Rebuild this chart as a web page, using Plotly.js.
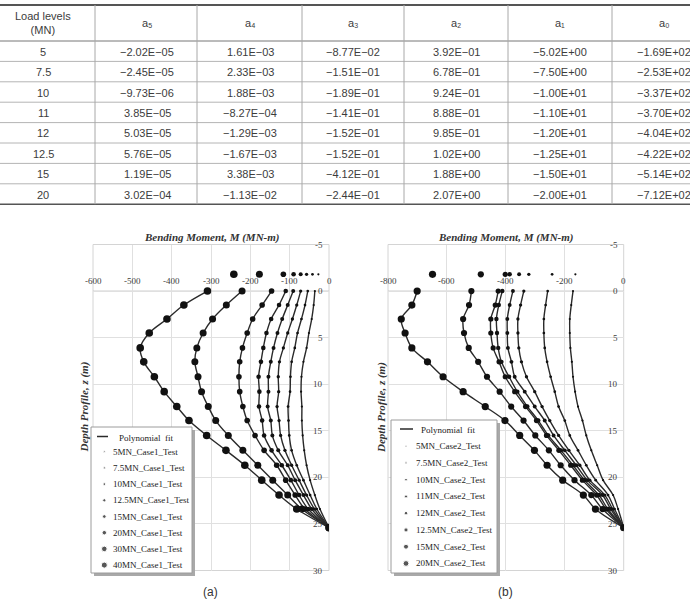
<!DOCTYPE html>
<html>
<head>
<meta charset="utf-8">
<script src="https://cdn.plot.ly/plotly-3.0.1.min.js"></script>
<style>
  html, body { margin: 0; padding: 0; background: #fff; }
  #chart { width: 690px; height: 607px; }
</style>
</head>
<body>
<div id="chart"></div>
<script>
// ---------- Table: polynomial coefficients per load level ----------
const loadLevels = ['5', '7.5', '10', '11', '12', '12.5', '15', '20'];
const coefA5 = ['−2.02E−05', '−2.45E−05', '−9.73E−06', '3.85E−05', '5.03E−05', '5.76E−05', '1.19E−05', '3.02E−04'];
const coefA4 = ['1.61E−03', '2.33E−03', '1.88E−03', '−8.27E−04', '−1.29E−03', '−1.67E−03', '3.38E−03', '−1.13E−02'];
const coefA3 = ['−8.77E−02', '−1.51E−01', '−1.89E−01', '−1.41E−01', '−1.52E−01', '−1.52E−01', '−4.12E−01', '−2.44E−01'];
const coefA2 = ['3.92E−01', '6.78E−01', '9.24E−01', '8.88E−01', '9.85E−01', '1.02E+00', '1.88E+00', '2.07E+00'];
const coefA1 = ['−5.02E+00', '−7.50E+00', '−1.00E+01', '−1.10E+01', '−1.20E+01', '−1.25E+01', '−1.50E+01', '−2.00E+01'];
const coefA0 = ['−1.69E+02', '−2.53E+02', '−3.37E+02', '−3.70E+02', '−4.04E+02', '−4.22E+02', '−5.14E+02', '−7.12E+02'];
const tableHeaders = ['Load levels<br>(MN)', 'a₅', 'a₄', 'a₃', 'a₂', 'a₁', 'a₀'];

// ---------- Bending moment profiles ----------
const depths = [0, 1.5, 3, 4.5, 6.1, 7.6, 9.2, 10.8, 12.4, 13.9, 15.5, 17.1, 18.7, 20.3, 21.9, 23.4, 25.4];
const headDepth = -1.8;

// Case 1
const case1Names = ['5MN_Case1_Test', '7.5MN_Case1_Test', '10MN_Case1_Test', '12.5MN_Case1_Test',
                    '15MN_Case1_Test', '20MN_Case1_Test', '30MN_Case1_Test', '40MN_Case1_Test'];
const case1Head = [-27, -42, -57, -72, -90, -116, -177, -242];
const case1_5MN   = [-36, -39, -44, -51, -57, -65, -70, -71, -69, -69, -67, -63, -57, -48, -36, -23, 0];
const case1_7_5MN = [-54, -61, -70, -80, -87, -95, -98, -99, -104, -103, -101, -95, -82, -65, -48, -31, 0];
const case1_10MN  = [-72, -82, -93, -105, -116, -126, -129, -128, -132, -127, -123, -112, -95, -76, -57, -37, 0];
const case1_12_5MN = [-91, -105, -119, -131, -141, -148, -154, -154, -156, -148, -144, -129, -105, -86, -65, -44, 0];
const case1_15MN  = [-110, -127, -147, -159, -167, -173, -179, -177, -178, -170, -165, -146, -120, -97, -76, -53, 0];
const case1_20MN  = [-146, -170, -194, -208, -220, -227, -229, -227, -219, -208, -188, -165, -133, -110, -86, -61, 0];
const case1_30MN  = [-221, -261, -296, -320, -336, -341, -333, -324, -307, -288, -256, -219, -181, -143, -105, -69, 0];
const case1_40MN  = [-309, -369, -412, -457, -480, -471, -444, -419, -387, -356, -311, -262, -214, -171, -127, -82, 0];
const case1Sizes = [2.2, 2.7, 3.3, 4, 4.6, 5.6, 7, 7.6];

// Case 2
const case2Names = ['5MN_Case2_Test', '7.5MN_Case2_Test', '10MN_Case2_Test', '11MN_Case2_Test',
                    '12MN_Case2_Test', '12.5MN_Case2_Test', '15MN_Case2_Test', '20MN_Case2_Test'];
const case2Head = [-164, -243, -322, -355, -387, -402, -485, -649];
const case2_5MN   = [-172, -178, -183, -183, -181, -176, -172, -165, -155, -140, -127, -110, -90, -70, -36, -19, 0];
const case2_7_5MN = [-258, -265, -271, -271, -268, -260, -248, -234, -221, -200, -183, -155, -127, -95, -53, -31, 0];
const case2_10MN  = [-339, -350, -359, -359, -356, -347, -330, -302, -277, -251, -221, -186, -149, -115, -64, -38, 0];
const case2_11MN  = [-376, -387, -395, -395, -393, -381, -370, -336, -302, -268, -238, -200, -161, -124, -72, -44, 0];
const case2_12MN  = [-412, -424, -432, -430, -426, -415, -389, -361, -327, -290, -256, -213, -172, -133, -84, -54, 0];
const case2_12_5MN = [-426, -436, -451, -451, -443, -423, -402, -370, -333, -296, -262, -220, -180, -140, -92, -60, 0];
const case2_15MN  = [-517, -525, -545, -542, -526, -494, -464, -421, -382, -340, -300, -254, -214, -167, -110, -72, 0];
const case2_20MN  = [-701, -719, -755, -742, -719, -666, -613, -545, -470, -403, -353, -303, -260, -207, -137, -96, 0];
const case2Sizes = [2.2, 2.7, 3.3, 3.9, 4.4, 5.2, 6.2, 7.2];

// Axis ticks
const depthTicks = [-5, 0, 5, 10, 15, 20, 25, 30];
const depthTickText = ['-5', '0', '5', '10', '15', '20', '25', '30'];
const case1Ticks = [-600, -500, -400, -300, -200, -100, 0];
const case1TickText = ['-600', '-500', '-400', '-300', '-200', '-100', '0'];
const case2Ticks = [-800, -600, -400, -200, 0];
const case2TickText = ['-800', '-600', '-400', '-200', '0'];

// ---------- helpers (pixel -> paper) ----------
const W = 690, H = 607;
const fx = p => p / W;
const fy = p => 1 - p / H;

const serif = 'Liberation Serif, Times New Roman, serif';
const sans = 'Liberation Sans, Arial, sans-serif';
const lineColor = '#2a2a2a';
const dotColor = '#111111';

const traces = [];
const annotations = [];
const shapes = [];

// ---------- table ----------
const tableCols = [loadLevels, coefA5, coefA4, coefA3, coefA2, coefA1, coefA0];
const colCenters = [43, 147, 250, 353, 456, 560, 664];
const colEdges = [95, 197, 302, 404, 508, 612];
const tableTop = 5, headerBottom = 41, rowH = 20.4;
const tableFont = { family: sans, size: 11, color: '#3c3c3c' };

tableHeaders.forEach((h, c) => {
  annotations.push({ xref: 'paper', yref: 'paper', x: fx(colCenters[c]), y: fy(23.3),
    text: h, showarrow: false, xanchor: 'center', yanchor: 'middle', font: tableFont });
});
tableCols.forEach((col, c) => {
  col.forEach((v, r) => {
    annotations.push({ xref: 'paper', yref: 'paper', x: fx(colCenters[c]),
      y: fy(headerBottom + rowH * r + rowH / 2 + 0.6), text: v, showarrow: false,
      xanchor: 'center', yanchor: 'middle', font: tableFont });
  });
});
const tableBottom = headerBottom + rowH * loadLevels.length;
shapes.push({ type: 'line', xref: 'paper', yref: 'paper', x0: 0, x1: 1, y0: fy(tableTop), y1: fy(tableTop),
  line: { color: '#555', width: 2 } });
shapes.push({ type: 'line', xref: 'paper', yref: 'paper', x0: 0, x1: 1, y0: fy(headerBottom), y1: fy(headerBottom),
  line: { color: '#777', width: 1 } });
for (let r = 1; r < loadLevels.length; r++) {
  const yy = fy(headerBottom + rowH * r);
  shapes.push({ type: 'line', xref: 'paper', yref: 'paper', x0: 0, x1: 1, y0: yy, y1: yy,
    line: { color: '#b4b4b4', width: 1 } });
}
shapes.push({ type: 'line', xref: 'paper', yref: 'paper', x0: 0, x1: 1, y0: fy(tableBottom), y1: fy(tableBottom),
  line: { color: '#555', width: 1.5 } });
colEdges.forEach(e => {
  shapes.push({ type: 'line', xref: 'paper', yref: 'paper', x0: fx(e), x1: fx(e), y0: fy(tableTop), y1: fy(tableBottom),
    line: { color: '#a8a8a8', width: 1 } });
});

// ---------- profile charts ----------
function addSeries(xa, ya, head, moments, size) {
  traces.push({ type: 'scatter', mode: 'lines', x: moments, y: depths, xaxis: xa, yaxis: ya,
    line: { color: lineColor, width: 1.4, shape: 'spline', smoothing: 1 },
    hoverinfo: 'skip', showlegend: false });
  traces.push({ type: 'scatter', mode: 'markers', x: [head].concat(moments), y: [headDepth].concat(depths),
    xaxis: xa, yaxis: ya, marker: { size: size, color: dotColor }, showlegend: false });
}

const case1Series = [case1_5MN, case1_7_5MN, case1_10MN, case1_12_5MN, case1_15MN, case1_20MN, case1_30MN, case1_40MN];
const case2Series = [case2_5MN, case2_7_5MN, case2_10MN, case2_11MN, case2_12MN, case2_12_5MN, case2_15MN, case2_20MN];
case1Series.forEach((s, i) => addSeries('x', 'y', case1Head[i], s, case1Sizes[i]));
case2Series.forEach((s, i) => addSeries('x2', 'y2', case2Head[i], s, case2Sizes[i]));

// plot geometry (px)
const plotTop = 244.5, plotBottom = 570.5;
const tickFont = { family: serif, size: 9, color: '#404040' };
const gridColor = '#e0e0e0';

function momentAxis(l, r, ticks, range, anchor) {
  return { domain: [fx(l), fx(r)], range: range, anchor: anchor,
    tickmode: 'array', tickvals: ticks, showticklabels: false, ticks: '',
    showgrid: true, gridcolor: gridColor, gridwidth: 1, zeroline: false, showline: false, fixedrange: true };
}
function depthAxis(anchor) {
  return { domain: [fy(plotBottom), fy(plotTop)], range: [30, -5], anchor: anchor,
    tickmode: 'array', tickvals: depthTicks, showticklabels: false, ticks: '',
    showgrid: true, gridcolor: gridColor, gridwidth: 1, zeroline: false, showline: false, fixedrange: true };
}

const panels = [
  { xa: 'x', ya: 'y', l: 93, r: 329, ticks: case1Ticks, tickText: case1TickText, caption: '(a)', capX: 210, titleX: 84 },
  { xa: 'x2', ya: 'y2', l: 388, r: 623.7, ticks: case2Ticks, tickText: case2TickText, caption: '(b)', capX: 505, titleX: 381.5 }
];
panels.forEach(p => {
  shapes.push({ type: 'rect', xref: p.xa + ' domain', yref: p.ya + ' domain', x0: 0, x1: 1, y0: 0, y1: 1,
    line: { color: '#d4d4d4', width: 1 }, fillcolor: 'rgba(0,0,0,0)', layer: 'below' });
  // moment axis sits on the ground line (z = 0), labels above it
  shapes.push({ type: 'line', xref: p.xa + ' domain', yref: p.ya, x0: 0, x1: 1, y0: 0, y1: 0,
    line: { color: '#c8c8c8', width: 1 }, layer: 'below' });
  p.ticks.forEach((t, k) => {
    annotations.push({ xref: p.xa, yref: p.ya, x: t, y: 0, text: p.tickText[k], showarrow: false,
      xanchor: 'center', yanchor: 'middle', yshift: 10, font: tickFont });
  });
  depthTicks.forEach((t, k) => {
    annotations.push({ xref: p.xa, yref: p.ya, x: 0, y: t, text: depthTickText[k], showarrow: false,
      xanchor: 'right', yanchor: 'middle', xshift: -4, font: tickFont });
  });
  annotations.push({ xref: 'paper', yref: 'paper', x: fx((p.l + p.r) / 2), y: fy(238), showarrow: false,
    xanchor: 'center', yanchor: 'middle', text: '<b><i>Bending Moment, M (MN-m)</i></b>',
    font: { family: serif, size: 11, color: '#333' } });
  annotations.push({ xref: 'paper', yref: 'paper', x: fx(p.titleX), y: fy((plotTop + plotBottom) / 2), showarrow: false,
    xanchor: 'center', yanchor: 'middle', textangle: -90, text: '<b><i>Depth Profile, z (m)</i></b>',
    font: { family: serif, size: 11, color: '#333' } });
  annotations.push({ xref: 'paper', yref: 'paper', x: fx(p.capX), y: fy(592), showarrow: false,
    xanchor: 'center', yanchor: 'middle', text: p.caption, font: { family: sans, size: 12, color: '#333' } });
});

// ---------- legend boxes (own overlay axes in pixel units) ----------
const legends = [
  { xa: 'x3', ya: 'y3', box: [91, 427, 192, 573], lineY: 436.5, lineX: [97, 108], fitX: 117,
    markX: 104.3, textX: 110.5, row0: 451.7, step: 16.2, names: case1Names, sizes: case1Sizes },
  { xa: 'x4', ya: 'y4', box: [391, 420, 497, 573], lineY: 429, lineX: [400, 413], fitX: 419,
    markX: 406, textX: 413.5, row0: 446.2, step: 16.75, names: case2Names, sizes: case2Sizes }
];
const legendFont = { family: serif, size: 9, color: '#222' };
legends.forEach(lg => {
  const [x0, y0, x1, y1] = lg.box;
  shapes.push({ type: 'rect', xref: lg.xa, yref: lg.ya, x0: x0 + 3, y0: y0 + 3, x1: x1 + 3, y1: y1 + 3,
    fillcolor: '#a9a9a9', line: { width: 0 }, layer: 'below' });
  shapes.push({ type: 'rect', xref: lg.xa, yref: lg.ya, x0: x0, y0: y0, x1: x1, y1: y1,
    fillcolor: '#ffffff', line: { color: '#9c9c9c', width: 1 }, layer: 'below' });
  shapes.push({ type: 'line', xref: lg.xa, yref: lg.ya, x0: lg.lineX[0], x1: lg.lineX[1], y0: lg.lineY, y1: lg.lineY,
    line: { color: lineColor, width: 1.5 }, layer: 'above' });
  annotations.push({ xref: lg.xa, yref: lg.ya, x: lg.fitX, y: lg.lineY + 1.2, text: 'Polynomial  fit',
    showarrow: false, xanchor: 'left', yanchor: 'middle', font: legendFont });
  const rows = lg.names.map((n, i) => lg.row0 + lg.step * i);
  traces.push({ type: 'scatter', mode: 'markers', x: rows.map(() => lg.markX), y: rows,
    xaxis: lg.xa, yaxis: lg.ya, marker: { size: lg.sizes.map(s => s * 0.8), color: dotColor },
    hoverinfo: 'skip', showlegend: false });
  lg.names.forEach((n, i) => {
    annotations.push({ xref: lg.xa, yref: lg.ya, x: lg.textX, y: rows[i], text: n, showarrow: false,
      xanchor: 'left', yanchor: 'middle', font: legendFont });
  });
});

const hiddenAxis = (range, domain, anchor) => ({ domain: domain, range: range, visible: false,
  fixedrange: true, anchor: anchor, showgrid: false, zeroline: false });

const layout = {
  width: W, height: H,
  margin: { l: 0, r: 0, t: 0, b: 0, pad: 0 },
  paper_bgcolor: '#ffffff',
  plot_bgcolor: 'rgba(0,0,0,0)',
  showlegend: false,
  xaxis: momentAxis(93, 329, case1Ticks, [-600, 0], 'y'),
  yaxis: depthAxis('x'),
  xaxis2: momentAxis(388, 623.7, case2Ticks, [-800, 0], 'y2'),
  yaxis2: depthAxis('x2'),
  xaxis3: hiddenAxis([89, 198], [fx(89), fx(198)], 'y3'),
  yaxis3: hiddenAxis([579, 424], [fy(579), fy(424)], 'x3'),
  xaxis4: hiddenAxis([388, 503], [fx(388), fx(503)], 'y4'),
  yaxis4: hiddenAxis([579, 417], [fy(579), fy(417)], 'x4'),
  shapes: shapes,
  annotations: annotations
};

Plotly.newPlot('chart', traces, layout, { displayModeBar: false, staticPlot: true });
</script>
</body>
</html>
